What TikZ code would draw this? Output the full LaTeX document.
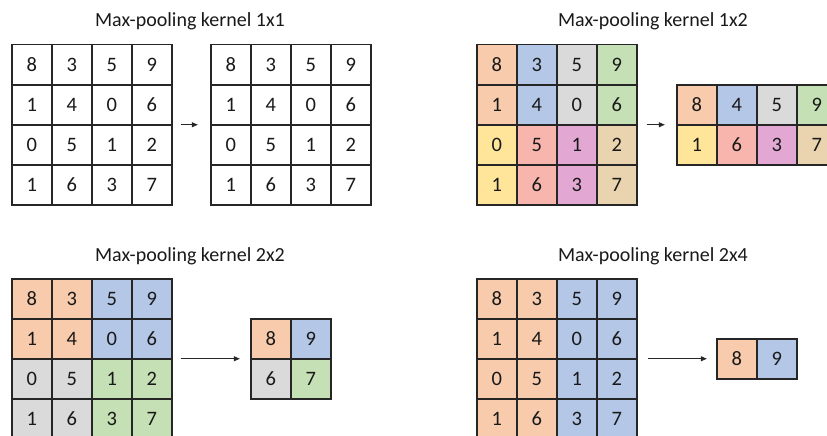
\documentclass[tikz,border=0pt]{standalone}
\usepackage{fontspec}
\setmainfont{Carlito}
\usetikzlibrary{fit,arrows.meta}

% pastel fills used for the pooling windows
\definecolor{cw}{HTML}{FFFFFF}
\definecolor{co}{HTML}{F8CBAD}
\definecolor{cb}{HTML}{B4C7E7}
\definecolor{cg}{HTML}{DADADA}
\definecolor{cn}{HTML}{C5E0B4}
\definecolor{cy}{HTML}{FEE599}
\definecolor{cr}{HTML}{F7B5AE}
\definecolor{cm}{HTML}{E2A8D3}
\definecolor{ct}{HTML}{E9D4AF}
\definecolor{edge}{HTML}{262626}

\tikzset{
  cell/.style={draw=edge, line width=1.5pt, minimum size=40pt, inner sep=0pt,
    anchor=north west, font=\fontsize{20.5}{24}\selectfont, text=black!90},
  title/.style={anchor=base, inner sep=0pt, font=\fontsize{20}{24}\selectfont, text=black!90},
  gridbox/.style={inner sep=0pt},
  arr/.style={draw=black!85, line width=0.8pt, -{Triangle[length=6pt,width=5pt]}}
}

% \grid{name}{x}{y}{rows of fill/value pairs}
\newcommand{\grid}[4]{%
  \foreach \row [count=\r] in {#4} {
    \foreach \f/\v [count=\c] in \row {
      \node[cell, fill=c\f] (#1-\r-\c) at ({#2+(\c-1)*40}, {#3+(\r-1)*40}) {\v};
    }
  }
}

\begin{document}
\begin{tikzpicture}[x=1pt, y=-1pt]
\useasboundingbox (0,0) rectangle (827,436);
\clip (0,0) rectangle (827,436);

% ---- kernel 1x1 ----
\node[title] (t1) at (190,26.7) {Max-pooling kernel 1x1};
\grid{a}{11}{44}{{w/8,w/3,w/5,w/9},{w/1,w/4,w/0,w/6},{w/0,w/5,w/1,w/2},{w/1,w/6,w/3,w/7}}
\node[gridbox, fit=(a-1-1)(a-4-4)] (A) {};
\grid{ao}{210}{44}{{w/8,w/3,w/5,w/9},{w/1,w/4,w/0,w/6},{w/0,w/5,w/1,w/2},{w/1,w/6,w/3,w/7}}
\node[gridbox, fit=(ao-1-1)(ao-4-4)] (AO) {};
\draw[arr, shorten <=8pt, shorten >=12pt] (A.east) -- (AO.west);

% ---- kernel 1x2 ----
\node[title] (t2) at (653,26.7) {Max-pooling kernel 1x2};
\grid{b}{476}{44}{{o/8,b/3,g/5,n/9},{o/1,b/4,g/0,n/6},{y/0,r/5,m/1,t/2},{y/1,r/6,m/3,t/7}}
\node[gridbox, fit=(b-1-1)(b-4-4)] (B) {};
\grid{bo}{676}{84}{{o/8,b/4,g/5,n/9},{y/1,r/6,m/3,t/7}}
\node[gridbox, fit=(bo-1-1)(bo-2-4)] (BO) {};
\draw[arr, shorten <=9pt, shorten >=11pt] (B.east) -- (BO.west);

% ---- kernel 2x2 ----
\node[title] (t3) at (190,261.7) {Max-pooling kernel 2x2};
\grid{c}{11}{278}{{o/8,o/3,b/5,b/9},{o/1,o/4,b/0,b/6},{g/0,g/5,n/1,n/2},{g/1,g/6,n/3,n/7}}
\node[gridbox, fit=(c-1-1)(c-4-4)] (C) {};
\grid{co}{250}{318}{{o/8,b/9},{g/6,n/7}}
\node[gridbox, fit=(co-1-1)(co-2-2)] (CO) {};
\draw[arr, shorten <=8pt, shorten >=10pt] (C.east) -- (CO.west);

% ---- kernel 2x4 ----
\node[title] (t4) at (653,261.7) {Max-pooling kernel 2x4};
\grid{d}{476}{278}{{o/8,o/3,b/5,b/9},{o/1,o/4,b/0,b/6},{o/0,o/5,b/1,b/2},{o/1,o/6,b/3,b/7}}
\node[gridbox, fit=(d-1-1)(d-4-4)] (D) {};
\grid{do}{716}{338}{{o/8,b/9}}
\node[gridbox, fit=(do-1-1)(do-1-2)] (DO) {};
\draw[arr, shorten <=10pt, shorten >=9pt] (D.east) -- (DO.west);
\end{tikzpicture}
\end{document}
